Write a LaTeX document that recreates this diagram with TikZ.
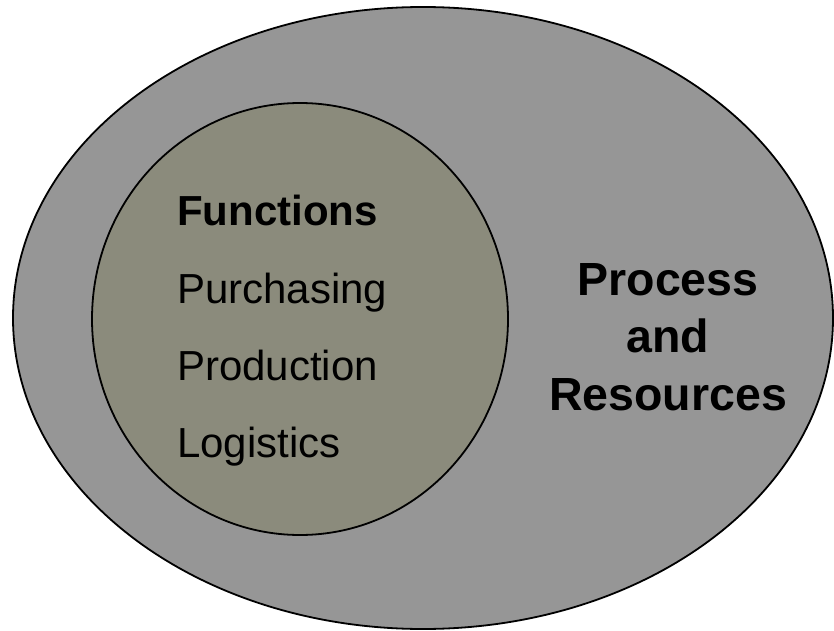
\documentclass[tikz,border=0pt]{standalone}
\usepackage{fontspec}
\setmainfont{Liberation Sans}
\definecolor{outergray}{RGB}{150,150,150}
\definecolor{innergray}{RGB}{139,139,124}
\tikzset{
  blob/.style={draw=black,line width=1.8bp},
  lefttext/.style={anchor=base west,inner sep=0pt,font=\fontsize{42bp}{48bp}\selectfont},
  righttext/.style={anchor=base,inner sep=0pt,font=\fontsize{46.5bp}{52bp}\selectfont\bfseries},
}
\begin{document}
\begin{tikzpicture}[x=1bp,y=-1bp]
\useasboundingbox (0,0) rectangle (834,631);
\fill[white] (0,0) rectangle (834,631);
\begin{scope}
\clip (0,0) rectangle (834,631);
\draw[blob,fill=outergray] (423,318) ellipse [x radius=410, y radius=311];
\end{scope}
\draw[blob,fill=innergray] (300,319) ellipse [x radius=208, y radius=216];
\node[lefttext,font=\fontsize{42bp}{48bp}\selectfont\bfseries] (functions) at (177,226) {Functions};
\node[lefttext] (purchasing) at (177,303) {Purchasing};
\node[lefttext] (production) at (177,380) {Production};
\node[lefttext] (logistics) at (177,457) {Logistics};
\node[righttext] (process) at (668,295) {Process};
\node[righttext] (and) at (668,352) {and};
\node[righttext] (resources) at (668,410) {Resources};
\end{tikzpicture}
\end{document}
